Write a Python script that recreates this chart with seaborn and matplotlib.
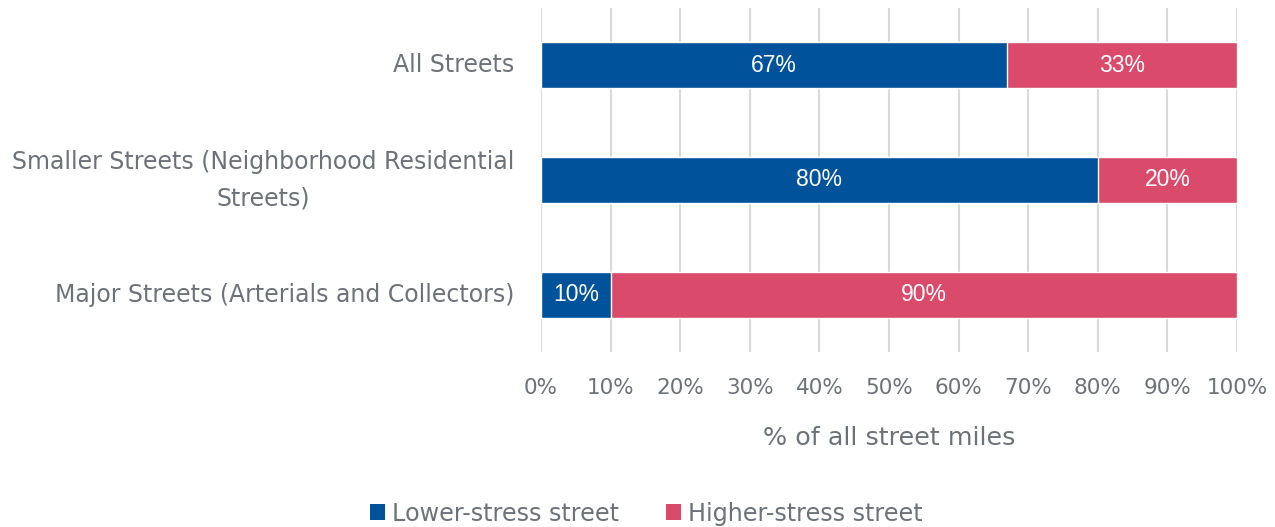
import matplotlib
matplotlib.use("Agg")
import matplotlib.pyplot as plt
from matplotlib.patches import Patch
import seaborn as sns
import pandas as pd

categories = [
    "All Streets",
    "Smaller Streets (Neighborhood Residential\nStreets)",
    "Major Streets (Arterials and Collectors)",
]
lower_stress = [67, 80, 10]
higher_stress = [33, 20, 90]
x_ticks = [0, 10, 20, 30, 40, 50, 60, 70, 80, 90, 100]
x_tick_labels = [f"{t}%" for t in x_ticks]
series_names = ["Lower-stress street", "Higher-stress street"]

BLUE = "#00529B"
PINK = "#D94A6B"
TEXT = "#6C7278"
GRID = "#D9D9D9"

sns.set_theme(style="white")
plt.rcParams["font.family"] = ["DejaVu Sans"]

df = pd.DataFrame({
    "category": categories,
    "lower": lower_stress,
    "higher": higher_stress,
})
df["total"] = df["lower"] + df["higher"]

fig = plt.figure(figsize=(12.75, 5.27), dpi=100)
ax = fig.add_axes([0.4243, 0.332, 0.5459, 0.6532])

# stacked bars: full-length higher-stress bar underneath, lower-stress on top
sns.barplot(data=df, x="total", y="category", color=PINK, orient="h",
            width=0.4, saturation=1, ax=ax, zorder=3)
sns.barplot(data=df, x="lower", y="category", color=BLUE, orient="h",
            width=0.4, saturation=1, ax=ax, zorder=3)

label_font = ["Liberation Sans", "DejaVu Sans"]
for i, (lo, hi) in enumerate(zip(lower_stress, higher_stress)):
    ax.text(lo / 2, i, f"{lo}%", ha="center", va="center", color="white",
            fontsize=16.5, family=label_font, zorder=4)
    ax.text(lo + hi / 2, i, f"{hi}%", ha="center", va="center", color="white",
            fontsize=16.5, family=label_font, zorder=4)

ax.set_xlim(0, 100)
ax.set_ylim(2.5, -0.5)
ax.set_xticks(x_ticks)
ax.set_xticklabels(x_tick_labels)
ax.set_yticks(range(len(categories)))
ax.set_yticklabels(categories, multialignment="center", linespacing=1.66,
                   verticalalignment="center")
ax.xaxis.grid(True, color=GRID, linewidth=1.5, zorder=0)
ax.yaxis.grid(False)
ax.set_axisbelow(True)
for s in ax.spines.values():
    s.set_visible(False)

ax.tick_params(axis="x", length=0, pad=19, labelsize=15.5, labelcolor=TEXT)
ax.tick_params(axis="y", length=0, pad=19, labelsize=17, labelcolor=TEXT)

ax.set_ylabel("")
ax.set_xlabel("% of all street miles", fontsize=18.3, color=TEXT, labelpad=20)

handles = [Patch(facecolor=BLUE, edgecolor="none"),
           Patch(facecolor=PINK, edgecolor="none")]
fig.legend(handles, series_names, loc="lower center",
           bbox_to_anchor=(0.507, -0.038), ncol=2, frameon=False,
           fontsize=17.2, labelcolor=TEXT, handlelength=0.64, handleheight=0.64,
           handletextpad=0.3, columnspacing=1.95)

fig.savefig("out.png", dpi=100)
